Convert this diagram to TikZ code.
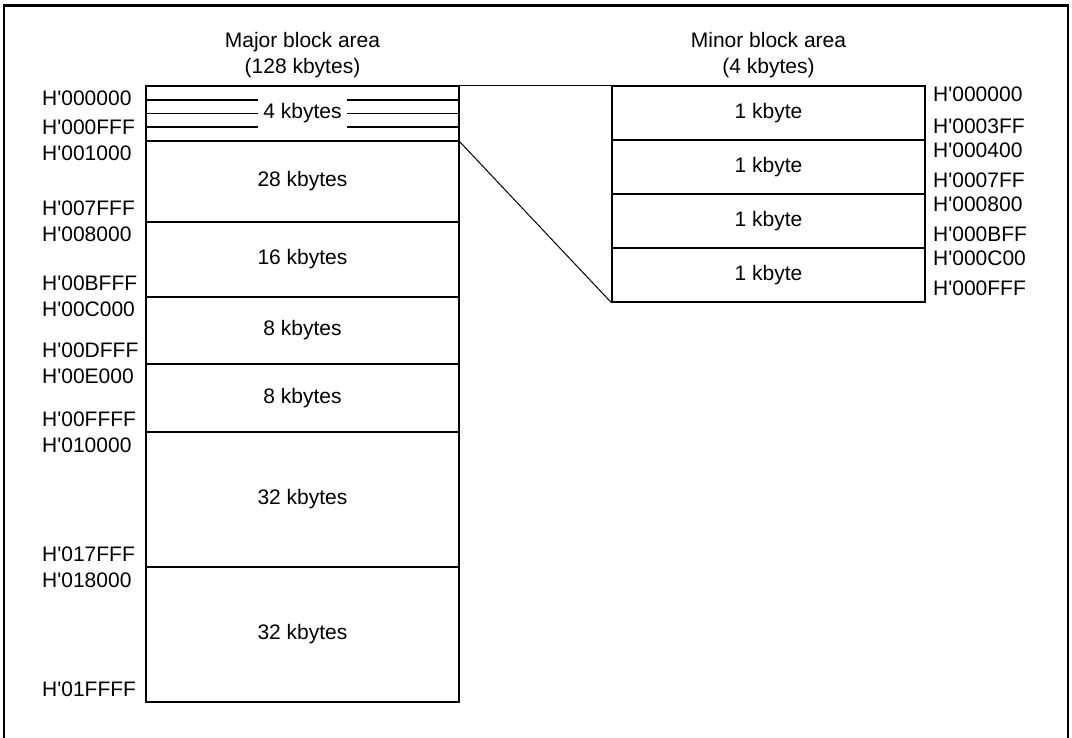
\documentclass[tikz,border=0pt]{standalone}
\usepackage{fontspec}
\setmainfont{Liberation Sans}
\newcommand{\hq}{H\textquotesingle}
\begin{document}
\begin{tikzpicture}[x=1pt,y=-1pt,
  txt/.style={font=\fontsize{21}{26}\selectfont, inner sep=0pt},
  addr/.style={txt, anchor=base west},
  blk/.style={draw, line width=1.3pt, inner sep=0pt, font=\fontsize{21}{26}\selectfont},
  thin/.style={line width=1.1pt}]
\useasboundingbox (0,0) rectangle (1072,738);
% outer frame (bottom edge outside the picture)
\draw[line width=2.6pt] (4,745) -- (4,5.3) -- (1068,5.3) -- (1068,745);

% titles
\node[txt, anchor=base] (tmaj1) at (302.5,48) {Major block area};
\node[txt, anchor=base] (tmaj2) at (302.5,74) {(128 kbytes)};
\node[txt, anchor=base] (tmin1) at (768.5,48) {Minor block area};
\node[txt, anchor=base] (tmin2) at (768.5,74) {(4 kbytes)};

% major block area
\node[blk, minimum width=313pt, minimum height=55pt]  (m0) at (302.5,113.5) {};
\node[blk, minimum width=313pt, minimum height=81pt]  (m1) at (302.5,181.5) {28 kbytes};
\node[blk, minimum width=313pt, minimum height=75pt]  (m2) at (302.5,259.5) {16 kbytes};
\node[blk, minimum width=313pt, minimum height=67pt]  (m3) at (302.5,330.5) {8 kbytes};
\node[blk, minimum width=313pt, minimum height=68pt]  (m4) at (302.5,398) {8 kbytes};
\node[blk, minimum width=313pt, minimum height=135pt] (m5) at (302.5,499.5) {32 kbytes};
\node[blk, minimum width=313pt, minimum height=135pt] (m6) at (302.5,634.5) {32 kbytes};

% 4 kbytes detail lines
\node[txt] (k4) at (302.5,113) {4 kbytes};
\coordinate (la) at (258,100);
\coordinate (lb) at (258,113.5);
\coordinate (lc) at (258,127);
\coordinate (ra) at (347,100);
\coordinate (rb) at (347,113.5);
\coordinate (rc) at (347,127);
\draw[thin] (m0.west |- la) -- (la);
\draw[thin] (m0.west |- lb) -- (lb);
\draw[thin] (m0.west |- lc) -- (lc);
\draw[thin] (ra) -- (m0.east |- ra);
\draw[thin] (rb) -- (m0.east |- rb);
\draw[thin] (rc) -- (m0.east |- rc);

% minor block area
\node[blk, minimum width=313pt, minimum height=54pt] (n0) at (768.5,113) {1 kbyte};
\node[blk, minimum width=313pt, minimum height=54pt] (n1) at (768.5,167) {1 kbyte};
\node[blk, minimum width=313pt, minimum height=54pt] (n2) at (768.5,221) {1 kbyte};
\node[blk, minimum width=313pt, minimum height=54pt] (n3) at (768.5,275) {1 kbyte};

% expansion lines
\draw[line width=1pt] (m0.north east) -- (n0.north west);
\draw[line width=1pt] (m0.south east) -- (n3.south west);

% left addresses
\node[addr] (a0)  at (42,106) {\hq 000000};
\node[addr] (a1)  at (42,135) {\hq 000FFF};
\node[addr] (a2)  at (42,161) {\hq 001000};
\node[addr] (a3)  at (42,216) {\hq 007FFF};
\node[addr] (a4)  at (42,242) {\hq 008000};
\node[addr] (a5)  at (42,291) {\hq 00BFFF};
\node[addr] (a6)  at (42,317) {\hq 00C000};
\node[addr] (a7)  at (42,358) {\hq 00DFFF};
\node[addr] (a8)  at (42,384) {\hq 00E000};
\node[addr] (a9)  at (42,426) {\hq 00FFFF};
\node[addr] (a10) at (42,452) {\hq 010000};
\node[addr] (a11) at (42,561) {\hq 017FFF};
\node[addr] (a12) at (42,587) {\hq 018000};
\node[addr] (a13) at (42,696) {\hq 01FFFF};

% right addresses
\node[addr] (b0) at (933,102) {\hq 000000};
\node[addr] (b1) at (933,134) {\hq 0003FF};
\node[addr] (b2) at (933,158) {\hq 000400};
\node[addr] (b3) at (933,188) {\hq 0007FF};
\node[addr] (b4) at (933,212) {\hq 000800};
\node[addr] (b5) at (933,242) {\hq 000BFF};
\node[addr] (b6) at (933,266) {\hq 000C00};
\node[addr] (b7) at (933,296) {\hq 000FFF};
\end{tikzpicture}
\end{document}
